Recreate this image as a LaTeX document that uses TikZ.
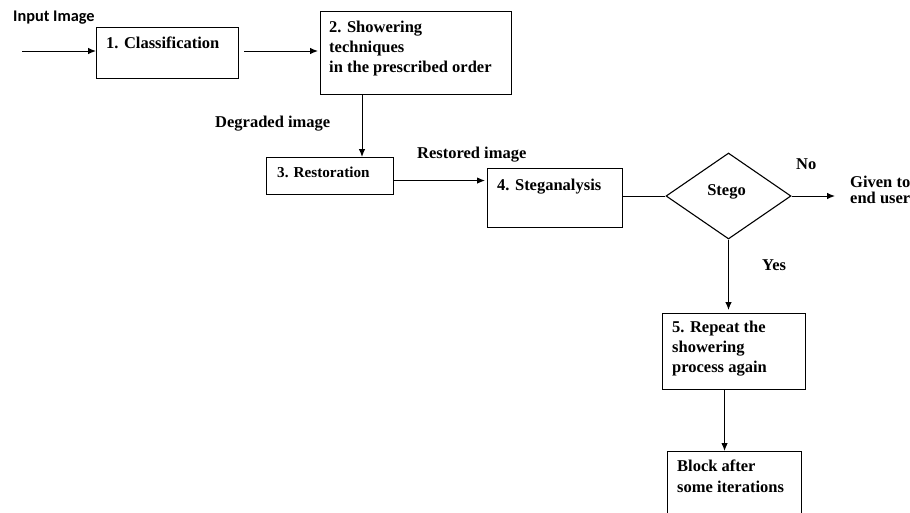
\documentclass[tikz,border=0pt]{standalone}
\usepackage{fontspec}
\setmainfont{Liberation Serif}
\newfontfamily\inputfont{Carlito}
\usetikzlibrary{arrows.meta,shapes.geometric}
\tikzset{
  box/.style={draw, line width=1.1pt, inner sep=0pt, anchor=north west},
  lbl/.style={font=\bfseries\fontsize{16.5}{16.5}\selectfont, anchor=base west, inner sep=0pt, align=left},
  arr/.style={-{Latex[length=8pt,width=6.5pt]}, line width=1pt},
  plain/.style={line width=1pt},
}
\begin{document}
\begin{tikzpicture}[x=1pt,y=-1pt]
\useasboundingbox (0,0) rectangle (910,512);
% boxes
\node[box, minimum width=142pt, minimum height=51pt] (b1) at (96,27) {};
\node[box, minimum width=191pt, minimum height=83pt] (b2) at (320,11) {};
\node[box, minimum width=127pt, minimum height=37pt] (b3) at (266,157) {};
\node[box, minimum width=135pt, minimum height=59pt] (b4) at (487,168) {};
\node[draw, line width=1.1pt, diamond, inner sep=0pt, minimum width=125pt, minimum height=86pt, aspect=1.45] (stego) at (728.5,196) {};
\node[box, minimum width=143pt, minimum height=76pt] (b5) at (662,313) {};
\node[box, minimum width=134pt, minimum height=66pt] (b6) at (667,451) {};
% texts (multi-line texts anchored at the baseline of their last line)
\node[lbl] (t1) at ([xshift=10pt,yshift=-21pt]b1.north west) {1. Classification};
\node[lbl, font=\bfseries\fontsize{16.5}{20}\selectfont] (t2) at ([xshift=9pt,yshift=-61pt]b2.north west) {2. Showering\\techniques\\in the prescribed order};
\node[lbl, font=\bfseries\fontsize{15.2}{16}\selectfont] (t3) at ([xshift=11pt,yshift=-20pt]b3.north west) {3. Restoration};
\node[lbl] (t4) at ([xshift=10pt,yshift=-22pt]b4.north west) {4. Steganalysis};
\node[lbl, anchor=base] (t5) at ([xshift=-2pt,yshift=1pt]stego.center) {Stego};
\node[lbl, font=\bfseries\fontsize{16.5}{19.7}\selectfont] (t6) at ([xshift=10pt,yshift=-59pt]b5.north west) {5. Repeat the\\showering\\process again};
\node[lbl, font=\bfseries\fontsize{16.5}{20.5}\selectfont] (t7) at ([xshift=10pt,yshift=-41pt]b6.north west) {Block after\\some iterations};
\node[lbl] (deg) at (215,127) {Degraded image};
\node[lbl] (res) at (417,158) {Restored image};
\node[lbl] (no) at (796,169) {No};
\node[lbl] (yes) at (762,270) {Yes};
\node[lbl, font=\bfseries\fontsize{16.5}{15.5}\selectfont] (user) at (850,203) {Given to\\end user};
\node[anchor=base west, inner sep=0pt, font=\inputfont\bfseries\fontsize{16.3}{17}\selectfont] (inp) at (13,21) {Input Image};
% connectors
\coordinate (in) at (22,51);
\coordinate (endu) at (835,196);
\draw[arr] (in) -- (in -| b1.west);
\draw[arr, shorten <=5pt, shorten >=2pt] (b1.east |- in) -- (b2.west |- in);
\draw[arr] ([xshift=42pt]b2.south west) -- ([xshift=42pt]b2.south west |- b3.north);
\draw[arr, shorten >=2pt] ([yshift=-4.5pt]b3.east) -- ([yshift=-4.5pt]b3.east -| b4.west);
\draw[plain] (stego.west -| b4.east) -- (stego.west);
\draw[arr] (stego.east) -- (endu);
\draw[arr, shorten >=3pt] (stego.south) -- (stego.south |- b5.north);
\draw[arr] ([xshift=-9.5pt]b5.south) -- ([xshift=-9.5pt]b5.south |- b6.north);
\end{tikzpicture}
\end{document}
